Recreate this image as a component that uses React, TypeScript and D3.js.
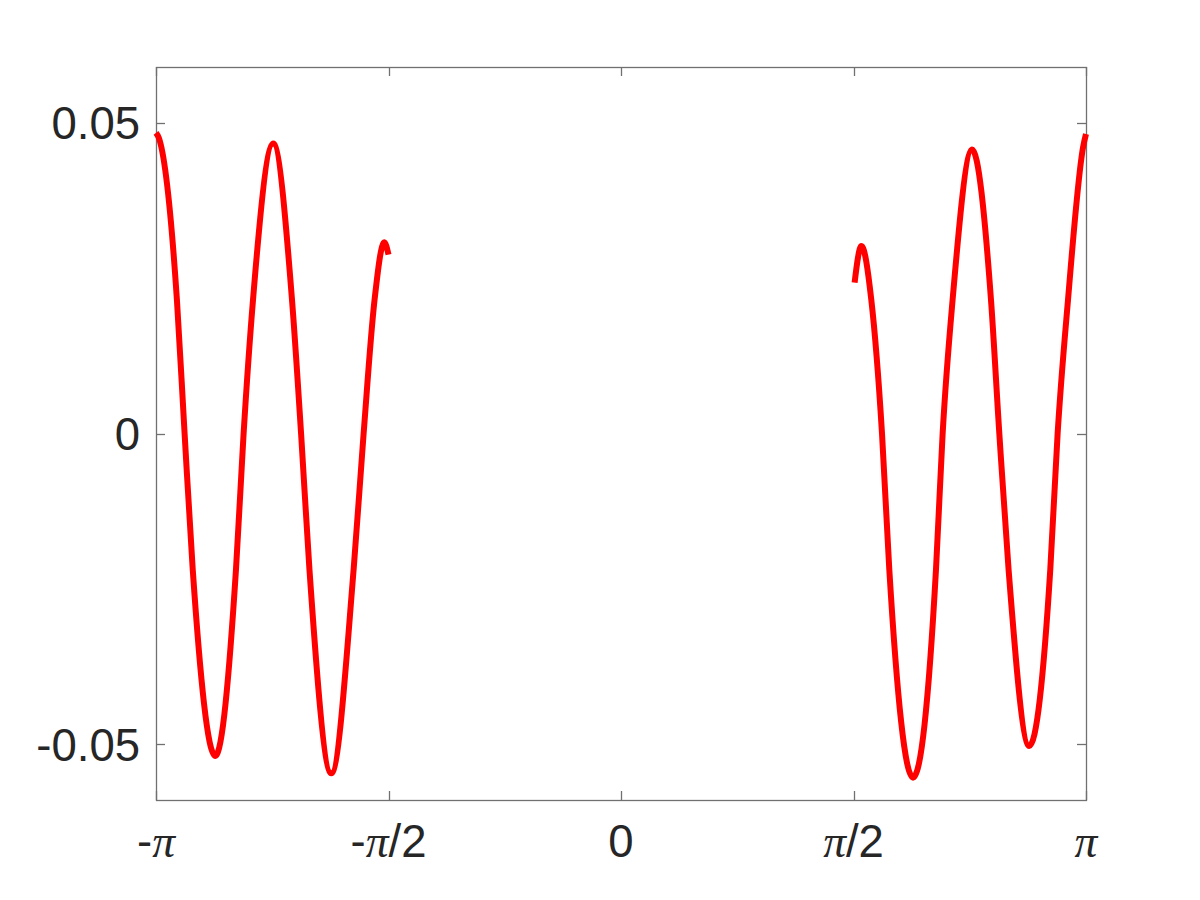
import React from "react";
import * as d3 from "d3";

// x values expressed in multiples of π, y values in data units
const leftX = [-1.0, -0.994, -0.955, -0.9385, -0.921, -0.8725, -0.828, -0.8116, -0.7914, -0.748, -0.7075, -0.688, -0.67, -0.623, -0.575, -0.5535, -0.53, -0.509, -0.5];
const leftY = [0.0484, 0.0476, 0.0215, 0, -0.0219, -0.0519, -0.0219, 0, 0.0215, 0.0467, 0.0215, 0, -0.0219, -0.0547, -0.0219, 0, 0.0215, 0.0308, 0.0288];

const rightX = [0.5024, 0.517, 0.5383, 0.5613, 0.577, 0.628, 0.6774, 0.6917, 0.7131, 0.755, 0.7957, 0.8136, 0.8335, 0.878, 0.9232, 0.939, 0.9613, 0.994, 1.0];
const rightY = [0.0243, 0.0302, 0.0215, 0, -0.0219, -0.0554, -0.0219, 0, 0.0215, 0.0457, 0.0215, 0, -0.0219, -0.0503, -0.0219, 0, 0.0215, 0.0462, 0.0482];

const xTickValues = [-1, -0.5, 0, 0.5, 1];
const xTickLabels = ["-π", "-π/2", "0", "π/2", "π"];
const yTickValues = [-0.05, 0, 0.05];
const yTickLabels = ["-0.05", "0", "0.05"];

const W = 1200;
const H = 900;
const M = { left: 156, right: 1086, top: 67, bottom: 800 };
const AXIS = "#707070";
const TEXT = "#262626";
const FONT_SIZE = 45.5;

function PiLabel({ text, x, y }: { text: string; x: number; y: number }) {
  const parts = text.split(/(π)/).filter((p) => p.length > 0);
  return (
    <text x={x} y={y} textAnchor="middle" fontFamily="'Liberation Sans', Arial, sans-serif" fontSize={FONT_SIZE} fill={TEXT}>
      {parts.map((p, i) =>
        p === "π" ? (
          <tspan key={i} fontFamily="'Liberation Serif', 'DejaVu Serif', serif" fontStyle="italic">
            π
          </tspan>
        ) : (
          <tspan key={i}>{p}</tspan>
        )
      )}
    </text>
  );
}

export default function App() {
  const x = d3.scaleLinear().domain([-Math.PI, Math.PI]).range([M.left, M.right]);
  const y = d3.scaleLinear().domain([-0.059, 0.059]).range([M.bottom, M.top]);

  const line = d3
    .line<[number, number]>()
    .x((d) => x(d[0] * Math.PI))
    .y((d) => y(d[1]))
    .curve(d3.curveMonotoneX);

  const leftData = leftX.map((v, i) => [v, leftY[i]] as [number, number]);
  const rightData = rightX.map((v, i) => [v, rightY[i]] as [number, number]);

  const tickLen = 9;

  return (
    <svg width={W} height={H} style={{ position: "absolute", left: 0, top: 0, display: "block", background: "#fff" }}>
      <rect x={0} y={0} width={W} height={H} fill="#ffffff" />
      <defs>
        <clipPath id="plotClip">
          <rect x={M.left - 3} y={M.top} width={M.right - M.left + 6} height={M.bottom - M.top} />
        </clipPath>
      </defs>
      {/* box */}
      <rect
        x={M.left + 0.5}
        y={M.top + 0.5}
        width={M.right - M.left}
        height={M.bottom - M.top}
        fill="none"
        stroke={AXIS}
        strokeWidth={1.3}
      />
      {/* x ticks */}
      {xTickValues.map((v, i) => {
        const px = Math.round(x(v * Math.PI)) + 0.5;
        return (
          <g key={"xt" + i}>
            <line x1={px} x2={px} y1={M.bottom} y2={M.bottom - tickLen} stroke={AXIS} strokeWidth={1.3} />
            <line x1={px} x2={px} y1={M.top} y2={M.top + tickLen} stroke={AXIS} strokeWidth={1.3} />
            <PiLabel text={xTickLabels[i]} x={x(v * Math.PI)} y={857} />
          </g>
        );
      })}
      {/* y ticks */}
      {yTickValues.map((v, i) => {
        const py = Math.round(y(v)) + 0.5;
        return (
          <g key={"yt" + i}>
            <line x1={M.left} x2={M.left + tickLen} y1={py} y2={py} stroke={AXIS} strokeWidth={1.3} />
            <line x1={M.right} x2={M.right - tickLen} y1={py} y2={py} stroke={AXIS} strokeWidth={1.3} />
            <text
              x={140}
              y={y(v) + 16.5}
              textAnchor="end"
              fontFamily="'Liberation Sans', Arial, sans-serif"
              fontSize={FONT_SIZE}
              fill={TEXT}
            >
              {yTickLabels[i]}
            </text>
          </g>
        );
      })}
      {/* curves */}
      <g clipPath="url(#plotClip)">
        <path d={line(leftData) || ""} fill="none" stroke="#ff0000" strokeWidth={6} strokeLinejoin="round" />
        <path d={line(rightData) || ""} fill="none" stroke="#ff0000" strokeWidth={6} strokeLinejoin="round" />
      </g>
    </svg>
  );
}
